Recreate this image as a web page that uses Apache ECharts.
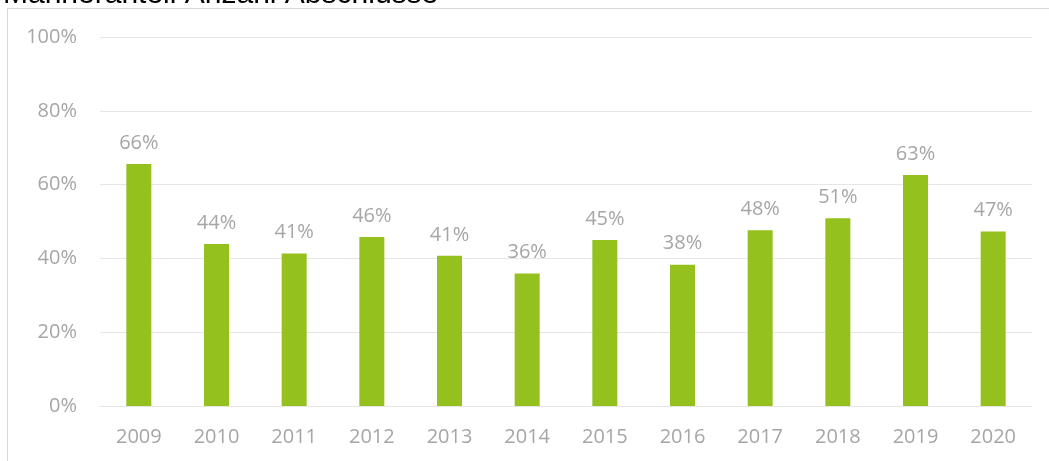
<!DOCTYPE html>
<html>
<head>
<meta charset="utf-8">
<script src="https://cdn.jsdelivr.net/npm/echarts@6/dist/echarts.min.js"></script>
<style>
html,body{margin:0;padding:0;background:#fff;}
#chart{width:1049px;height:461px;}
</style>
</head>
<body>
<div id="chart"></div>
<script>
const title = 'Männeranteil Anzahl Abschlüsse';
const years = ['2009','2010','2011','2012','2013','2014','2015','2016','2017','2018','2019','2020'];
const shares = [65.6, 43.9, 41.3, 45.8, 40.7, 35.9, 45.0, 38.3, 47.6, 50.9, 62.6, 47.3];
const yTicks = [0, 20, 40, 60, 80, 100];

const chart = echarts.init(document.getElementById('chart'));
const font = 'Open Sans, Noto Sans, sans-serif';
chart.setOption({
  animation: false,
  title: {
    text: title,
    left: -2,
    top: -25,
    textStyle: {fontFamily: 'Liberation Sans, Arial, sans-serif', fontSize: 30, fontWeight: 'normal', color: '#000'}
  },
  graphic: [{
    type: 'rect', silent: true,
    shape: {x: 7.5, y: 8.5, width: 1100, height: 500},
    style: {fill: 'none', stroke: '#d9d9d9', lineWidth: 1}
  }],
  grid: {left: 100, right: 17, top: 37, bottom: 55, containLabel: false},
  xAxis: {
    type: 'category',
    data: years,
    axisLine: {show: true, lineStyle: {color: '#e6e6e6', width: 1}},
    axisTick: {show: false},
    axisLabel: {color: '#a6a6a6', fontSize: 20, fontFamily: font, margin: 21}
  },
  yAxis: {
    type: 'value',
    min: yTicks[0], max: yTicks[yTicks.length - 1], interval: 20,
    axisLine: {show: false},
    axisTick: {show: false},
    splitLine: {lineStyle: {color: '#e6e6e6', width: 1}},
    axisLabel: {color: '#a6a6a6', fontSize: 20, fontFamily: font, margin: 23, formatter: v => v + '%'}
  },
  series: [{
    type: 'bar',
    data: shares,
    barWidth: 25,
    itemStyle: {color: '#95c11f'},
    label: {
      show: true, position: 'top', distance: 11,
      color: '#a6a6a6', fontSize: 20, fontFamily: font,
      formatter: p => Math.round(p.value) + '%'
    }
  }]
});
</script>
</body>
</html>
